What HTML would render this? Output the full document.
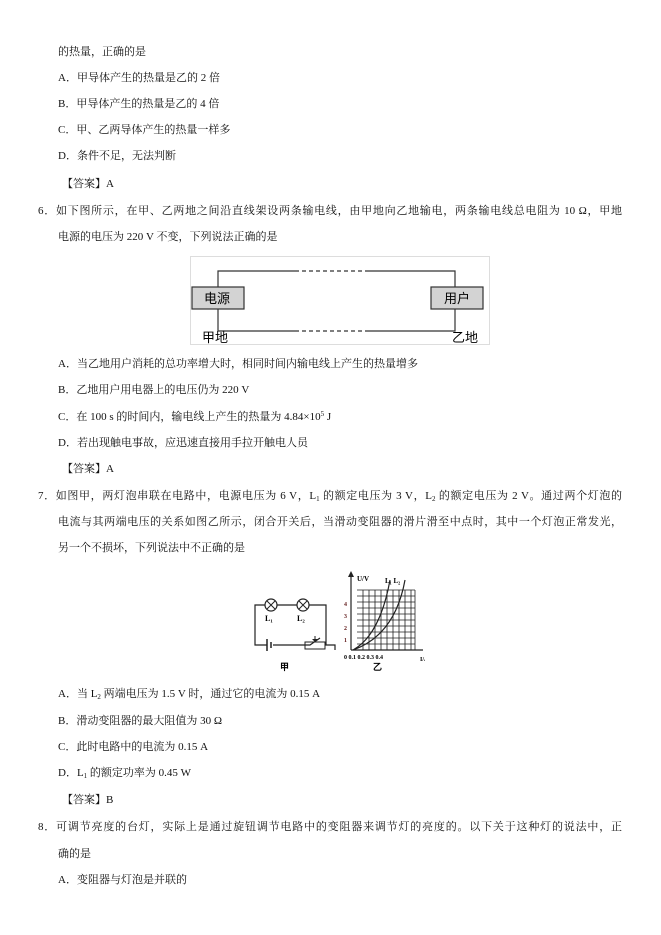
<!DOCTYPE html>
<html><head><meta charset="utf-8"><style>
body{margin:0;width:661px;height:935px;background:#fff;position:relative;font-family:"Liberation Serif","Noto Serif CJK SC","Noto Sans CJK SC",serif;color:#111;}
.t{position:absolute;font-size:11px;white-space:nowrap;line-height:14px;height:14px;}
.j{text-align:justify;text-align-last:justify;}
sub,sup{font-size:7px;line-height:0;vertical-align:baseline;position:relative;}
sub{top:2px;} sup{top:-4px;}
</style></head><body>
<div class="t" style="left:58px;top:45px">的热量，正确的是</div>
<div class="t" style="left:58px;top:71px">A．甲导体产生的热量是乙的 2 倍</div>
<div class="t" style="left:58px;top:97px">B．甲导体产生的热量是乙的 4 倍</div>
<div class="t" style="left:58px;top:123px">C．甲、乙两导体产生的热量一样多</div>
<div class="t" style="left:58px;top:149px">D．条件不足，无法判断</div>
<div class="t" style="left:62px;top:177px">【答案】A</div>
<div class="t j" style="left:38px;top:204px;width:584px">6．如下图所示，在甲、乙两地之间沿直线架设两条输电线，由甲地向乙地输电，两条输电线总电阻为 10 Ω，甲地</div>
<div class="t" style="left:58px;top:230px">电源的电压为 220 V 不变，下列说法正确的是</div>
<svg style="position:absolute;left:190px;top:256px" width="300" height="90">
<rect x="0.5" y="0.5" width="299" height="88" fill="#fff" stroke="#ddd"/>
<path d="M28 31V15H105M175 15H265V31M28 53V75H105M175 75H265V53" fill="none" stroke="#333" stroke-width="1.2"/>
<path d="M105 15H175M105 75H175" stroke="#333" stroke-width="1.2" stroke-dasharray="4 3"/>
<rect x="2" y="31" width="52" height="22" fill="#d3d3d3" stroke="#333" stroke-width="1.2"/>
<rect x="241" y="31" width="52" height="22" fill="#d3d3d3" stroke="#333" stroke-width="1.2"/>
<text x="14" y="47" font-size="13" font-family="Noto Sans CJK SC,sans-serif">电源</text>
<text x="254" y="47" font-size="13" font-family="Noto Sans CJK SC,sans-serif">用户</text>
<text x="12" y="86" font-size="13" font-family="Noto Sans CJK SC,sans-serif">甲地</text>
<text x="262" y="86" font-size="13" font-family="Noto Sans CJK SC,sans-serif">乙地</text>
</svg>
<div class="t" style="left:58px;top:357px">A．当乙地用户消耗的总功率增大时，相同时间内输电线上产生的热量增多</div>
<div class="t" style="left:58px;top:383px">B．乙地用户用电器上的电压仍为 220 V</div>
<div class="t" style="left:58px;top:410px">C．在 100 s 的时间内，输电线上产生的热量为 4.84×10<sup>5</sup> J</div>
<div class="t" style="left:58px;top:436px">D．若出现触电事故，应迅速直接用手拉开触电人员</div>
<div class="t" style="left:62px;top:462px">【答案】A</div>
<div class="t j" style="left:38px;top:489px;width:584px">7．如图甲，两灯泡串联在电路中，电源电压为 6 V，L<sub>1</sub> 的额定电压为 3 V，L<sub>2</sub> 的额定电压为 2 V。通过两个灯泡的</div>
<div class="t j" style="left:58px;top:515px;width:564px">电流与其两端电压的关系如图乙所示，闭合开关后，当滑动变阻器的滑片滑至中点时，其中一个灯泡正常发光，</div>
<div class="t" style="left:58px;top:541px">另一个不损坏，下列说法中不正确的是</div>
<svg style="position:absolute;left:245px;top:565px" width="180" height="110" font-family="Liberation Serif,serif" font-weight="bold">
<path d="M10 60V40H20M32 40H52M64 40H81V80M10 60V80H22M28 80H65L75 73M80 80H90V85" fill="none" stroke="#222" stroke-width="1.2"/>
<circle cx="26" cy="40" r="6" fill="none" stroke="#222" stroke-width="1.2"/><path d="M22 36l8 8M30 36l-8 8" stroke="#222"/>
<circle cx="58" cy="40" r="6" fill="none" stroke="#222" stroke-width="1.2"/><path d="M54 36l8 8M62 36l-8 8" stroke="#222"/>
<path d="M22 74V86M26 77V83" stroke="#222" stroke-width="1.5"/>
<rect x="60" y="77" width="20" height="7" fill="none" stroke="#222"/>
<path d="M70 71V76" stroke="#222"/><path d="M67 74l3 3 3-3z" fill="#222"/>
<text x="20" y="56" font-size="8">L₁</text><text x="52" y="56" font-size="8">L₂</text>
<text x="35" y="105" font-size="9">甲</text>
<g stroke="#222" stroke-width="0.8">
<path d="M112 25H170M112 31H170M112 37H170M112 43H170M112 49H170M112 55H170M112 61H170M112 67H170M112 73H170M112 79H170"/>
<path d="M118 25V85M124 25V85M130 25V85M136 25V85M142 25V85M148 25V85M154 25V85M160 25V85M166 25V85M170 25V85"/>
</g>
<path d="M106 85H178M106 85V8" stroke="#222" stroke-width="1.2"/>
<path d="M103 12l3-6 3 6z" fill="#222"/>
<path d="M108 85Q135 70 145 15M108 85Q150 70 160 15" fill="none" stroke="#222" stroke-width="1.2"/>
<text x="112" y="16" font-size="7">U/V</text><text x="140" y="18" font-size="7">L₁ L₂</text>
<text x="99" y="41" font-size="6" fill="#622">4</text><text x="99" y="53" font-size="6" fill="#622">3</text>
<text x="99" y="65" font-size="6" fill="#622">2</text><text x="99" y="77" font-size="6" fill="#622">1</text>
<text x="99" y="94" font-size="6">0 0.1 0.2 0.3 0.4</text><text x="175" y="96" font-size="6">I/A</text>
<text x="128" y="105" font-size="9">乙</text>
</svg>
<div class="t" style="left:58px;top:687px">A．当 L<sub>2</sub> 两端电压为 1.5 V 时，通过它的电流为 0.15 A</div>
<div class="t" style="left:58px;top:714px">B．滑动变阻器的最大阻值为 30 Ω</div>
<div class="t" style="left:58px;top:740px">C．此时电路中的电流为 0.15 A</div>
<div class="t" style="left:58px;top:766px">D．L<sub>1</sub> 的额定功率为 0.45 W</div>
<div class="t" style="left:62px;top:793px">【答案】B</div>
<div class="t j" style="left:38px;top:820px;width:584px">8．可调节亮度的台灯，实际上是通过旋钮调节电路中的变阻器来调节灯的亮度的。以下关于这种灯的说法中，正</div>
<div class="t" style="left:58px;top:847px">确的是</div>
<div class="t" style="left:58px;top:873px">A．变阻器与灯泡是并联的</div>
</body></html>
